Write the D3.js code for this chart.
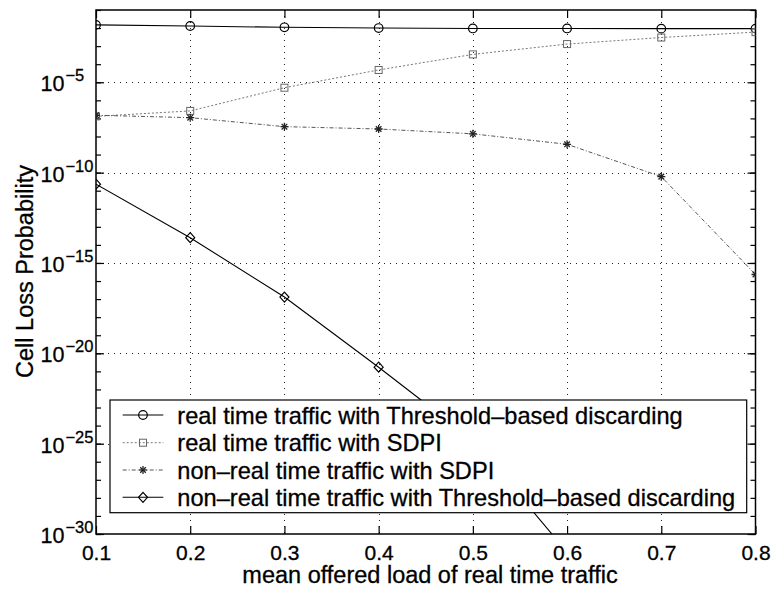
<!DOCTYPE html>
<html><head><meta charset="utf-8">
<script src="https://cdn.jsdelivr.net/npm/d3@7"></script>
<style>
html,body{margin:0;padding:0;background:#fff;}
svg{display:block;font-family:"Liberation Sans",Arial,Helvetica,sans-serif;}
</style></head>
<body>
<svg id="chart" width="776" height="589"></svg>
<script>
// ---- data ----
const loads = [0.1, 0.2, 0.3, 0.4, 0.5, 0.6, 0.7, 0.8];
const rtThreshold = [1.5e-2, 1.3e-2, 1.1e-2, 1.0e-2, 9.5e-3, 9.5e-3, 9.3e-3, 9.3e-3];
const rtSDPI = [1.3e-7, 2.6e-7, 5.0e-6, 4.8e-5, 3.5e-4, 1.3e-3, 3.0e-3, 6.0e-3];
const nrtSDPI = [1.5e-7, 1.1e-7, 3.5e-8, 2.6e-8, 1.4e-8, 3.7e-9, 6.0e-11, 2.3e-16];
const nrtThreshold = [2.3e-11, 2.5e-14, 1.3e-17, 1.7e-21, 1.6e-25, 1e-31];
const xTicks = [0.1, 0.2, 0.3, 0.4, 0.5, 0.6, 0.7, 0.8];
const yMajorExp = [-30, -25, -20, -15, -10, -5];
const yMinorExp = d3.range(-30, 0);
const legendLabels = [
  "real time traffic with Threshold\u2013based discarding",
  "real time traffic with SDPI",
  "non\u2013real time traffic with SDPI",
  "non\u2013real time traffic with Threshold\u2013based discarding"
];
const xLabel = "mean offered load of real time traffic";
const yLabel = "Cell Loss Probability";

// ---- layout ----
const L = 96, R = 755.5, T = 10, B = 534;
const svg = d3.select("#chart");
const x = d3.scaleLinear().domain([0.1, 0.8]).range([L, R]);
const y = d3.scaleLog().domain([1e-30, 1e-1]).range([B, T]);
const snap = v => Math.round(v) + 0.5;

const series = [
  {vals: rtThreshold, color: "#000", dash: null, marker: "circle", w: 1.1},
  {vals: rtSDPI, color: "#777", dash: "2,2", marker: "square", w: 1},
  {vals: nrtSDPI, color: "#555", dash: "4,2,1,2", marker: "star", w: 1},
  {vals: nrtThreshold, color: "#000", dash: null, marker: "diamond", w: 1.1}
];

// clip
svg.append("defs").append("clipPath").attr("id", "plotclip")
  .append("rect").attr("x", L).attr("y", T).attr("width", R - L).attr("height", B - T);

// grid
const grid = svg.append("g");
grid.selectAll("line.v").data(xTicks.slice(1, -1)).join("line")
  .attr("x1", d => snap(x(d))).attr("x2", d => snap(x(d))).attr("y1", T).attr("y2", B)
  .attr("stroke", "#222").attr("stroke-width", 1).attr("stroke-dasharray", "1,5");
grid.selectAll("line.h").data(yMajorExp.slice(1)).join("line")
  .attr("y1", d => snap(y(Math.pow(10, d)))).attr("y2", d => snap(y(Math.pow(10, d))))
  .attr("x1", L).attr("x2", R)
  .attr("stroke", "#222").attr("stroke-width", 1).attr("stroke-dasharray", "1,5");

// axes
function styleAxis(g) {
  g.select(".domain").remove();
  g.selectAll("line").attr("stroke", "#000").attr("stroke-width", 1.2);
}
const xb = svg.append("g").attr("transform", `translate(0,${B})`)
  .call(d3.axisBottom(x).tickValues(xTicks).tickSize(-8).tickFormat(d3.format(".1f")));
styleAxis(xb);
xb.selectAll("text").attr("dy", null).attr("y", 26).attr("font-size", 21)
  .attr("fill", "#000").attr("stroke", "#000").attr("stroke-width", 0.3).attr("font-family", null);
const xt = svg.append("g").attr("transform", `translate(0,${T})`)
  .call(d3.axisTop(x).tickValues(xTicks).tickSize(-8).tickFormat(""));
styleAxis(xt);

const minorVals = yMinorExp.map(e => Math.pow(10, e));
const majorVals = yMajorExp.map(e => Math.pow(10, e));
const yl = svg.append("g").attr("transform", `translate(${L},0)`)
  .call(d3.axisLeft(y).tickValues(minorVals).tickSize(-5).tickFormat(""));
styleAxis(yl);
const yr = svg.append("g").attr("transform", `translate(${R},0)`)
  .call(d3.axisRight(y).tickValues(minorVals).tickSize(-5).tickFormat(""));
styleAxis(yr);
const ylM = svg.append("g").attr("transform", `translate(${L},0)`)
  .call(d3.axisLeft(y).tickValues(majorVals).tickSize(-8).tickFormat(""));
styleAxis(ylM);
const yrM = svg.append("g").attr("transform", `translate(${R},0)`)
  .call(d3.axisRight(y).tickValues(majorVals).tickSize(-8).tickFormat(""));
styleAxis(yrM);

// y tick labels (10^exp)
const ylab = svg.append("g").attr("fill", "#000").attr("stroke", "#000").attr("stroke-width", 0.3);
yMajorExp.forEach(e => {
  const yy = y(Math.pow(10, e));
  const t = ylab.append("text").attr("x", 40.5).attr("y", yy + 9);
  t.append("tspan").attr("font-size", 21.5).text("10");
  t.append("tspan").attr("font-size", 16.5).attr("dy", -10).attr("dx", 1).text("\u2212" + Math.abs(e));
});

// frame
svg.append("rect").attr("x", L).attr("y", T).attr("width", R - L).attr("height", B - T)
  .attr("fill", "none").attr("stroke", "#000").attr("stroke-width", 1.5);

// markers
function drawMarker(g, type, cx, cy, color) {
  if (type === "circle") {
    g.append("circle").attr("cx", cx).attr("cy", cy).attr("r", 4.3)
      .attr("fill", "none").attr("stroke", color).attr("stroke-width", 1.2);
  } else if (type === "square") {
    g.append("rect").attr("x", cx - 3.5).attr("y", cy - 3.5).attr("width", 7).attr("height", 7)
      .attr("fill", "none").attr("stroke", color).attr("stroke-width", 1);
  } else if (type === "star") {
    const r = 4;
    const p = [[-r, 0, r, 0], [0, -r, 0, r], [-r * 0.7, -r * 0.7, r * 0.7, r * 0.7], [-r * 0.7, r * 0.7, r * 0.7, -r * 0.7]];
    p.forEach(q => g.append("line").attr("x1", cx + q[0]).attr("y1", cy + q[1])
      .attr("x2", cx + q[2]).attr("y2", cy + q[3]).attr("stroke", "#222").attr("stroke-width", 1.3));
  } else if (type === "diamond") {
    g.append("path").attr("d", `M${cx},${cy - 5}L${cx + 4.5},${cy}L${cx},${cy + 5}L${cx - 4.5},${cy}Z`)
      .attr("fill", "none").attr("stroke", color).attr("stroke-width", 1.2);
  }
}

const plot = svg.append("g").attr("clip-path", "url(#plotclip)");
const line = d3.line().x(d => x(d[0])).y(d => y(d[1]));
series.forEach(s => {
  const pts = s.vals.map((v, i) => [loads[i], v]);
  plot.append("path").attr("d", line(pts)).attr("fill", "none")
    .attr("stroke", s.color).attr("stroke-width", s.w)
    .attr("stroke-dasharray", s.dash);
  pts.forEach(p => drawMarker(plot, s.marker, x(p[0]), y(p[1]), s.color === "#000" ? "#000" : "#666"));
});

// legend
const lg = svg.append("g");
const lx0 = 110, ly0 = 400, lw = 636.7, lh = 112.7;
lg.append("rect").attr("x", lx0).attr("y", ly0).attr("width", lw).attr("height", lh)
  .attr("fill", "#fff").attr("stroke", "#000").attr("stroke-width", 1.2);
const rowY = [415, 442.7, 470, 497.3];
series.forEach((s, i) => {
  lg.append("line").attr("x1", 122.7).attr("x2", 163.3).attr("y1", rowY[i]).attr("y2", rowY[i])
    .attr("stroke", s.color).attr("stroke-width", s.w).attr("stroke-dasharray", s.dash);
  drawMarker(lg, s.marker, 143, rowY[i], s.color === "#000" ? "#000" : "#666");
  lg.append("text").attr("x", 177.3).attr("y", rowY[i] + 8.5).attr("font-size", 23.6)
    .attr("fill", "#000").attr("stroke", "#000").attr("stroke-width", 0.3).text(legendLabels[i]);
});

// axis labels
svg.append("text").attr("x", 430).attr("y", 583).attr("text-anchor", "middle")
  .attr("font-size", 23.5).attr("fill", "#000").attr("stroke", "#000").attr("stroke-width", 0.3).text(xLabel);
svg.append("text").attr("transform", "translate(33,271.5) rotate(-90)").attr("text-anchor", "middle")
  .attr("font-size", 23.5).attr("fill", "#000").attr("stroke", "#000").attr("stroke-width", 0.3).text(yLabel);
</script>
</body></html>
